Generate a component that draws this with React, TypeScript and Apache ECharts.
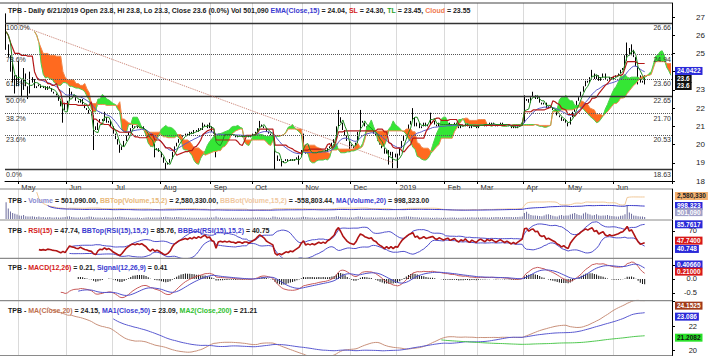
import React, { useEffect, useRef } from "react";
import * as echarts from "echarts";

const FONT = "'Liberation Sans', Arial, sans-serif";

// ---------------- data ----------------
const firstDay = [2018, 3, 19]; // 19 Apr 2018 (UTC month index)
const holidays = [
  "2018-04-25", "2018-04-30", "2018-05-01", "2018-09-03", "2019-01-01",
  "2019-02-04", "2019-02-05", "2019-02-06", "2019-02-07", "2019-02-08",
  "2019-04-15", "2019-04-29", "2019-04-30", "2019-05-01",
];
const futureDays = 12;
const monthNames = ["Jan", "Feb", "Mar", "Apr", "May", "Jun", "Jul", "Aug", "Sep", "Oct", "Nov", "Dec"];

const closeApr18 = [25.5, 24.8, 24.0, 23.4, 23.8, 23.2];
const closeMay18 = [23.6, 23.0, 23.9, 23.2, 22.8, 23.7, 23.4, 23.1, 23.2, 23.3, 23.1, 23.2, 23.0, 23.2, 23.1, 22.9, 22.8, 22.7, 22.4, 22.1, 22.3, 21.9];
const closeJun18 = [22.4, 22.9, 22.7, 22.6, 22.4, 22.3, 22.5, 22.2, 22.0, 21.9, 21.7, 21.6, 21.0, 20.8, 21.2, 21.4, 21.3, 21.5, 21.2, 21.3, 21.0];
const closeJul18 = [20.6, 20.3, 20.0, 19.7, 19.9, 20.2, 20.5, 20.7, 20.9, 21.0, 20.9, 21.0, 20.9, 21.0, 20.8, 20.6, 20.2, 19.9, 20.1, 19.7, 19.8, 19.6];
const closeAug18 = [19.3, 19.0, 18.9, 19.0, 19.2, 19.6, 19.9, 20.1, 20.3, 20.4, 20.5, 20.6, 20.5, 20.7, 20.6, 20.8, 20.7, 20.9, 20.8, 21.0, 21.1, 20.9, 21.0];
const closeSep18 = [20.7, 20.6, 19.8, 20.5, 20.6, 20.5, 20.6, 20.5, 20.6, 20.5, 20.5, 20.4, 20.5, 20.5, 20.4, 20.5, 20.5, 20.4, 20.5];
const closeOct18 = [20.6, 20.7, 20.9, 21.1, 21.0, 20.9, 20.7, 20.6, 20.5, 20.4, 19.4, 19.1, 19.2, 19.0, 19.1, 19.2, 19.1, 19.2, 19.1, 19.2, 19.3, 19.4, 19.7];
const closeNov18 = [19.9, 19.5, 19.6, 19.5, 19.6, 19.5, 19.6, 19.7, 19.6, 19.7, 19.6, 19.8, 19.9, 20.1, 20.3, 21.0, 21.5, 21.2, 20.8, 20.5, 20.2, 20.0];
const closeDec18 = [19.9, 19.8, 20.1, 20.7, 21.3, 21.2, 21.0, 20.9, 20.8, 20.9, 20.6, 20.5, 20.2, 20.0, 19.8, 19.5, 19.7, 19.4, 19.6, 19.3, 19.5];
const closeJan19 = [19.4, 19.8, 20.2, 20.5, 20.8, 21.1, 21.3, 21.5, 21.0, 21.2, 20.9, 21.0, 21.2, 21.0, 21.1, 21.2, 21.3, 21.1, 21.0, 21.2, 21.1, 21.0];
const closeFeb19 = [21.1, 21.2, 21.0, 21.1, 21.2, 21.0, 20.9, 21.1, 21.0, 21.2, 21.0, 20.9, 21.1, 21.0, 20.9];
const closeMar19 = [21.1, 21.2, 21.1, 21.0, 21.2, 21.1, 21.2, 21.1, 21.0, 21.1, 21.2, 21.1, 21.0, 21.1, 21.0, 20.9, 21.0, 20.9, 21.0, 21.1, 21.2];
const closeApr19 = [22.4, 22.5, 22.3, 22.6, 22.7, 22.5, 22.6, 22.3, 22.2, 22.3, 22.0, 22.1, 22.0, 21.9, 21.8, 21.6, 21.5, 21.3, 21.4];
const closeMay19 = [21.2, 21.1, 21.5, 21.8, 22.1, 22.4, 22.6, 22.9, 23.2, 23.5, 23.4, 23.7, 23.9, 23.6, 23.8, 23.5, 23.7, 23.9, 23.6, 23.5, 23.7, 23.6];
const closeJun19 = [23.7, 23.8, 23.9, 24.1, 24.2, 24.6, 25.3, 24.9, 25.2, 24.8, 24.3, 23.8, 23.4, 23.5, 23.6];
const closes = [
  ...closeApr18, ...closeMay18, ...closeJun18, ...closeJul18, ...closeAug18, ...closeSep18,
  ...closeOct18, ...closeNov18, ...closeDec18, ...closeJan19, ...closeFeb19, ...closeMar19,
  ...closeApr19, ...closeMay19, ...closeJun19,
];

const firstOpen = 27.0;
const lastOpen = 23.8;
const wickHighs: [number, number][] = [
  [0, 27.2], [2, 24.9], [3, 24.5], [6, 24.6], [8, 24.2], [11, 24.0], [13, 23.6], [29, 23.1], [45, 21.8],
  [58, 21.2], [90, 21.2], [93, 21.2], [116, 21.3], [136, 20.6], [152, 21.9], [162, 21.9], [186, 22.0],
  [194, 21.75], [237, 22.7], [241, 22.9], [268, 24.1], [283, 24.9], [284, 25.6], [286, 25.5], [292, 23.8],
];
const wickLows: [number, number][] = [
  [0, 25.2], [4, 22.8], [7, 22.6], [10, 22.5], [26, 21.2], [40, 19.7], [52, 19.55], [68, 19.3], [73, 18.63],
  [96, 19.3], [123, 18.63], [126, 18.8], [134, 18.9], [157, 19.6], [175, 18.9], [177, 18.7], [179, 18.7],
  [257, 21.0], [289, 23.3], [292, 23.3],
];

// volume, thousands of shares
const volApr18 = [4200, 2600, 1900, 1500, 1300, 1100];
const volMay18 = [900, 800, 1000, 700, 650, 600, 700, 550, 500, 600, 450, 500, 400, 450, 500, 400, 380, 420, 350, 400, 450, 500];
const volJun18 = [600, 700, 500, 450, 400, 380, 420, 350, 400, 500, 600, 550, 450, 400, 380, 350, 320, 400, 380, 350, 330];
const volJul18 = [400, 450, 500, 550, 480, 420, 380, 350, 330, 300, 320, 350, 300, 280, 300, 400, 450, 380, 350, 400, 380, 350];
const volAug18 = [450, 500, 550, 480, 420, 400, 450, 500, 480, 420, 380, 350, 330, 360, 340, 320, 300, 330, 310, 300, 320, 350, 330];
const volSep18 = [380, 360, 600, 400, 350, 330, 320, 300, 310, 290, 300, 320, 310, 300, 290, 310, 300, 320, 330];
const volOct18 = [350, 380, 400, 420, 380, 350, 330, 320, 300, 600, 550, 450, 400, 380, 420, 400, 380, 360, 350, 340, 380, 400, 450];
const volNov18 = [550, 500, 420, 380, 360, 340, 330, 350, 360, 380, 400, 420, 450, 500, 480, 700, 650, 500, 450, 420, 400, 380];
const volDec18 = [380, 400, 500, 600, 550, 450, 400, 380, 400, 420, 380, 360, 400, 420, 450, 400, 380, 420, 450, 400, 380];
const volJan19 = [450, 500, 520, 550, 600, 650, 550, 480, 450, 420, 400, 380, 360, 380, 350, 330, 320, 340, 350, 330, 320, 300];
const volFeb19 = [300, 320, 350, 380, 360, 340, 320, 330, 350, 360, 380, 400, 420, 380, 360];
const volMar19 = [380, 400, 420, 450, 400, 380, 420, 450, 480, 500, 450, 420, 480, 500, 520, 480, 450, 500, 520, 550, 600];
const volApr19 = [1500, 1800, 1300, 1000, 900, 850, 800, 750, 700, 900, 1100, 1200, 1000, 800, 700, 650, 900, 1000, 800];
const volMay19 = [850, 900, 1100, 1300, 1500, 1200, 1000, 900, 1400, 1600, 1300, 1100, 900, 1000, 1200, 900, 800, 850, 900, 1000, 800, 750];
const volJun19 = [700, 650, 600, 800, 900, 1200, 3400, 1600, 1300, 900, 800, 700, 650, 600, 501.09];
const volumesK = [
  ...volApr18, ...volMay18, ...volJun18, ...volJul18, ...volAug18, ...volSep18, ...volOct18,
  ...volNov18, ...volDec18, ...volJan19, ...volFeb19, ...volMar19, ...volApr19, ...volMay19, ...volJun19,
];

// indicator settings (as the picture suggests)
const tlPeriod = 3;
const slPeriod = 13;
const cloudShift = 13;

const fibPercents = ["100.0%", "78.6%", "61.8%", "50.0%", "38.2%", "23.6%", "0.0%"];
const fibValues = [26.66, 24.94, 23.6, 22.65, 21.7, 20.53, 18.63];
const fibSolid = [true, false, false, true, false, false, true];
const trendStart: [number, number] = [5, 26.6];
const trendEnd: [number, number] = [177, 19.0];

const emaTag = 24.0422;
const closeTag = 23.6;
const volTags = [2580330, 998323, 501090];
const rsiTags = [85.7617, 47.74, 40.748];
const macdTags = [0.4066, 0.21];
const maTags = [24.1525, 23.086, 21.2082];
const maAxisLabels = [20, 22];

// ---------------- helpers ----------------
type N = number | null;
function tradingDates(count: number, futureCount: number): string[] {
  const out: string[] = [];
  const d = new Date(Date.UTC(firstDay[0], firstDay[1], firstDay[2]));
  while (out.length < count + futureCount) {
    const dow = d.getUTCDay();
    const iso = d.toISOString().slice(0, 10);
    if (dow !== 0 && dow !== 6 && !holidays.includes(iso)) out.push(iso);
    d.setUTCDate(d.getUTCDate() + 1);
  }
  return out;
}
function sma(a: N[], p: number): N[] {
  return a.map((_, i) => {
    if (i < p - 1) return null;
    let s = 0;
    for (let j = i - p + 1; j <= i; j++) {
      if (a[j] == null) return null;
      s += a[j] as number;
    }
    return s / p;
  });
}
function ema(a: N[], p: number): N[] {
  const out: N[] = a.map(() => null);
  const start = a.findIndex((v) => v != null);
  if (start < 0 || start + p > a.length) return out;
  const k = 2 / (p + 1);
  let s = 0;
  for (let i = start; i < start + p; i++) s += a[i] as number;
  let e = s / p;
  out[start + p - 1] = e;
  for (let i = start + p; i < a.length; i++) {
    e = (a[i] as number) * k + e * (1 - k);
    out[i] = e;
  }
  return out;
}
function bands(a: N[], p: number, m: number) {
  const top: N[] = [], bot: N[] = [];
  a.forEach((_, i) => {
    let ok = i >= p - 1;
    const w: number[] = [];
    if (ok) for (let j = i - p + 1; j <= i; j++) { if (a[j] == null) ok = false; else w.push(a[j] as number); }
    if (!ok) { top.push(null); bot.push(null); return; }
    const mean = w.reduce((x, y) => x + y, 0) / p;
    const sd = Math.sqrt(w.reduce((x, y) => x + (y - mean) * (y - mean), 0) / p);
    top.push(mean + m * sd);
    bot.push(mean - m * sd);
  });
  return { top, bot };
}
function rsi(c: number[], p: number): N[] {
  const out: N[] = c.map(() => null);
  let ag = 0, al = 0;
  for (let i = 1; i <= p; i++) { const d = c[i] - c[i - 1]; ag += Math.max(d, 0); al += Math.max(-d, 0); }
  ag /= p; al /= p;
  out[p] = al === 0 ? 100 : 100 - 100 / (1 + ag / al);
  for (let i = p + 1; i < c.length; i++) {
    const d = c[i] - c[i - 1];
    ag = (ag * (p - 1) + Math.max(d, 0)) / p;
    al = (al * (p - 1) + Math.max(-d, 0)) / p;
    out[i] = al === 0 ? 100 : 100 - 100 / (1 + ag / al);
  }
  return out;
}

function buildOption() {
  const n = closes.length;
  const dates = tradingDates(n, futureDays);
  const monthStart = new Set<number>();
  for (let i = 1; i < n; i++) if (dates[i].slice(5, 7) !== dates[i - 1].slice(5, 7)) monthStart.add(i);
  const isMonth = (idx: number) => monthStart.has(idx);

  const opens = closes.map((c, i) => (i === 0 ? firstOpen : i === n - 1 ? lastOpen : closes[i - 1]));
  const highs = closes.map((c, i) => Math.max(c, opens[i]));
  const lows = closes.map((c, i) => Math.min(c, opens[i]));
  wickHighs.forEach(([i, v]) => (highs[i] = Math.max(highs[i], v)));
  wickLows.forEach(([i, v]) => (lows[i] = Math.min(lows[i], v)));
  const candles = closes.map((c, i) => [opens[i], c, lows[i], highs[i]]);

  const mid = (p: number, i: number) => {
    let hi = -Infinity, lo = Infinity;
    for (let j = Math.max(0, i - p + 1); j <= i; j++) { hi = Math.max(hi, highs[j]); lo = Math.min(lo, lows[j]); }
    return (hi + lo) / 2;
  };
  const tl = closes.map((_, i) => mid(tlPeriod, i));
  const sl = closes.map((_, i) => mid(slPeriod, i));
  const total = n + futureDays;
  const spanA: N[] = new Array(total).fill(null);
  const spanB: N[] = new Array(total).fill(null);
  for (let i = 0; i < n; i++) {
    if (i + cloudShift < total) {
      spanA[i + cloudShift] = tl[i];
      spanB[i + cloudShift] = sl[i];
    }
  }
  const cloudBase = spanA.map((a, i) => (a == null || spanB[i] == null ? null : Math.min(a, spanB[i] as number)));
  const cloudGreen = spanA.map((a, i) => (a == null || spanB[i] == null ? null : Math.max(0, a - (spanB[i] as number))));
  const cloudOrange = spanA.map((a, i) => (a == null || spanB[i] == null ? null : Math.max(0, (spanB[i] as number) - a)));
  const ema15 = ema(closes, 15);

  const vols = volumesK.map((v) => v * 1000);
  const volMA = sma(vols, 20);
  const volBB = bands(vols, 15, 2);

  const rsi15 = rsi(closes, 15);
  const rsiBB = bands(rsi15, 15, 2);

  const e12 = ema(closes, 12);
  const e26 = ema(closes, 26);
  const macd: N[] = closes.map((_, i) => (e12[i] == null || e26[i] == null ? null : (e12[i] as number) - (e26[i] as number)));
  const signal = ema(macd, 9);
  const hist = macd.map((m, i) => (m == null || signal[i] == null ? null : m - (signal[i] as number)));

  const ma20 = sma(closes, 20);
  const ma50 = sma(closes, 50);
  const ma200 = sma(closes, 200);

  const labelFmt = (v: string) => {
    const m = +v.slice(5, 7);
    return m === 1 ? v.slice(0, 4) : monthNames[m - 1];
  };
  const xAxisFor = (gi: number, main: boolean) => ({
    type: "category", gridIndex: gi, data: dates, boundaryGap: true,
    axisLine: { show: main, lineStyle: { color: "#000", width: 1 } },
    axisTick: { show: main, interval: isMonth, length: 3, lineStyle: { color: "#000" } },
    axisLabel: {
      show: main, interval: isMonth, formatter: labelFmt, fontSize: 7.5, color: "#222",
      align: "left", margin: 2, fontFamily: FONT, padding: [0, 0, 0, 2],
    },
    splitLine: { show: true, interval: isMonth, lineStyle: { color: "#dadada", width: 1 } },
  });
  const yBase = (gi: number) => ({
    type: "value", gridIndex: gi, position: "right", scale: true,
    axisLine: { show: true, lineStyle: { color: "#000", width: 1 } },
    axisTick: { show: true, length: 3, lineStyle: { color: "#000" } },
    splitLine: { show: false },
    axisLabel: { fontSize: 7.5, color: "#222", fontFamily: FONT, align: "right", margin: 25, showMinLabel: false, showMaxLabel: false },
  });

  const hidden = { color: "rgba(0,0,0,0)", width: 0 };
  const tag = (value: number, text: string, bg: string, fg: string, dy = 0) => ({
    yAxis: value,
    lineStyle: hidden,
    label: {
      show: true, position: "end", formatter: text, backgroundColor: bg, color: fg, fontSize: 6.5,
      fontFamily: FONT, fontWeight: "bold", padding: [1, 2, 0, 2], distance: 3, offset: [0, dy],
    },
  });
  const marks = (data: any[]) => ({ symbol: ["none", "none"], silent: true, animation: false, data });
  const tagSeries = (xi: number, yi: number, data: any[]) => ({
    type: "line", xAxisIndex: xi, yAxisIndex: yi, data: [null], clip: false, silent: true,
    symbol: "none", lineStyle: hidden, markLine: marks(data), z: 20,
  });

  const line = (data: N[], color: string, xi: number, yi: number, width = 1, extra: any = {}) => ({
    type: "line", data, xAxisIndex: xi, yAxisIndex: yi, symbol: "none", showSymbol: false, silent: true,
    lineStyle: { color, width }, itemStyle: { color }, ...extra,
  });

  const fibMarks: any[] = [];
  fibValues.forEach((v, k) => {
    const ls = { type: fibSolid[k] ? "solid" : "dotted", color: fibSolid[k] ? "#333" : "#555", width: fibSolid[k] ? 1.3 : 1 };
    fibMarks.push({
      yAxis: v, lineStyle: ls,
      label: { show: true, position: "insideStartBottom", formatter: fibPercents[k], fontSize: 7, color: "#333", fontFamily: FONT, distance: 1 },
    });
    fibMarks.push({
      yAxis: v, lineStyle: hidden,
      label: { show: true, position: "insideEndBottom", formatter: v.toFixed(2), fontSize: 7, color: "#333", fontFamily: FONT, distance: 1 },
    });
  });
  fibMarks.push([
    { coord: [trendStart[0], trendStart[1]], lineStyle: { type: "dotted", color: "#c87c6c", width: 1 }, label: { show: false } },
    { coord: [trendEnd[0], trendEnd[1]] },
  ]);

  const rich = (col: string) => ({ color: col, fontSize: 7, fontFamily: FONT });
  const richSet = {
    k: rich("#222"), b: rich("#3b3bd0"), r: rich("#d42020"), g: rich("#1fa01f"), o: rich("#f07a50"),
    t: rich("#e8b878"), p: rich("#f0c8a0"), v: rich("#8a8ad0"), m: rich("#c07050"), l: rich("#30c030"),
  };
  const title = (top: number, text: string) => ({ left: 3, top, text, textStyle: { rich: richSet, fontSize: 7, fontFamily: FONT } });

  const sepYs = [3, 189, 220, 258.3, 300.7, 355.5];

  // MA panel: 22 at y=326, 12.25 px per unit, bottom at the last separator
  const maPx = 12.25;
  const maMax = 24.3;
  const maTop = 326 - (maMax - 22) * maPx;
  const maBottom = 355.5;
  const maMin = 22 - (maBottom - 326) / maPx;
  const maHeight = maBottom - maTop;

  return {
    animation: false,
    backgroundColor: "#fff",
    title: [
      title(2, "{k|TPB - Daily 6/21/2019 Open 23.8, Hi 23.8, Lo 23.3, Close 23.6 (0.0%) Vol 501,090 }{b|EMA(Close,15)}{k| = 24.04, }{r|SL}{k| = 24.30, }{g|TL}{k| = 23.45, }{o|Cloud}{k| = 23.55}"),
      title(192, "{k|TPB - }{v|Volume}{k| = 501,090.00, }{t|BBTop(Volume,15,2)}{k| = 2,580,330.00, }{p|BBBot(Volume,15,2)}{k| = -558,803.44, }{b|MA(Volume,20)}{k| = 998,323.00}"),
      title(222, "{k|TPB - }{r|RSI(15)}{k| = 47.74, }{b|BBTop(RSI(15),15,2)}{k| = 85.76, }{b|BBBot(RSI(15),15,2)}{k| = 40.75}"),
      title(259, "{k|TPB - }{r|MACD(12,26)}{k| = 0.21, }{b|Signal(12,26,9)}{k| = 0.41}"),
      title(302, "{k|TPB - }{m|MA(Close,20)}{k| = 24.15, }{b|MA1(Close,50)}{k| = 23.09, }{l|MA2(Close,200)}{k| = 21.21}"),
    ],
    graphic: sepYs.map((y) => ({
      type: "line", silent: true, z: 100,
      shape: { x1: 0, y1: y, x2: 672, y2: y },
      style: { stroke: y === 3 ? "#444" : "#8a8a8a", lineWidth: 1.2 },
    })),
    grid: [
      { left: 5, right: 38, top: 3, height: 178 },
      { left: 5, right: 38, top: 189, height: 30 },
      { left: 5, right: 38, top: 220, height: 38.3 },
      { left: 5, right: 38, top: 258.3, height: 42.4 },
      { left: 5, right: 38, top: maTop, height: maHeight },
    ],
    xAxis: [xAxisFor(0, true), xAxisFor(1, false), xAxisFor(2, false), xAxisFor(3, false), xAxisFor(4, false)],
    yAxis: [
      { ...yBase(0), min: 18, max: 27.77, interval: 1, axisLabel: { ...yBase(0).axisLabel, fontSize: 8, margin: 33, showMinLabel: true, formatter: (v: number) => (v === 24 ? "" : String(v)) } },
      { ...yBase(1), min: 0, max: 7500000, axisLabel: { show: false }, axisTick: { show: false } },
      { ...yBase(1), min: -1060000, max: 3680000, show: false },
      { ...yBase(2), min: 20, max: 90, interval: 50, axisLabel: { ...yBase(2).axisLabel, formatter: (v: number) => (v === 70 ? "70" : "") } },
      { ...yBase(3), min: -0.775, max: 0.739, splitNumber: 3, axisLabel: { ...yBase(3).axisLabel, formatter: (v: number) => (v > 0.1 ? "" : v.toFixed(1)) } },
      {
        ...yBase(4), min: maMin, max: maMax,
        axisTick: { show: true, length: 3, lineStyle: { color: "#000" }, customValues: [20, 22, 24] },
        axisLabel: {
          ...yBase(4).axisLabel, customValues: maAxisLabels, showMinLabel: true, showMaxLabel: true,
          formatter: (v: number) => (Math.abs(v - 20) < 0.01 || Math.abs(v - 22) < 0.01 ? String(Math.round(v)) : ""),
        },
      },
    ],
    series: [
      // cloud
      line(cloudBase, "transparent", 0, 0, 0, { stack: "cloud", lineStyle: hidden }),
      line(cloudGreen, "#35e635", 0, 0, 0, { stack: "cloud", lineStyle: hidden, areaStyle: { color: "#35e635", opacity: 1 } }),
      line(cloudOrange, "#ff6a1f", 0, 0, 0, { stack: "cloud", lineStyle: hidden, areaStyle: { color: "#ff6a1f", opacity: 1 } }),
      line(spanA, "#4ccf4c", 0, 0, 1),
      line(spanB, "#f08a50", 0, 0, 1),
      {
        type: "candlestick", xAxisIndex: 0, yAxisIndex: 0, data: candles, silent: true, barMaxWidth: 2,
        itemStyle: { color: "#ffffff", color0: "#000000", borderColor: "#000000", borderColor0: "#000000", borderWidth: 1 },
        markLine: marks(fibMarks),
      },
      line(ema15, "#5a5ac8", 0, 0, 1),
      line(sl, "#b51818", 0, 0, 1.2),
      line(tl, "#1e8c1e", 0, 0, 1),
      tagSeries(0, 0, [
        tag(emaTag, emaTag.toFixed(4), "#2a2ad8", "#fff"),
        tag(closeTag, closeTag.toFixed(1), "#111", "#fff", 0),
        tag(closeTag, closeTag.toFixed(1), "#111", "#fff", 7),
      ]),
      // volume
      { type: "bar", xAxisIndex: 1, yAxisIndex: 1, data: vols, silent: true, barWidth: 1, itemStyle: { color: "#6b6b9c" } },
      line(volBB.top, "#f0c898", 1, 2, 1),
      line(volMA, "#3c3cc8", 1, 2, 1),
      tagSeries(1, 2, [
        tag(volTags[0], "2,580,330", "#f2b070", "#222"),
        tag(volTags[1], "998,323", "#2a2ad8", "#fff"),
        tag(volTags[2], "501,090", "#a0a0c8", "#fff", 3),
      ]),
      // RSI
      line(rsiBB.top, "#5050cc", 2, 3, 1),
      line(rsiBB.bot, "#5050cc", 2, 3, 1),
      line(rsi15, "#b01414", 2, 3, 1.6),
      tagSeries(2, 3, [
        tag(rsiTags[0], "85.7617", "#2a2ad8", "#fff", 2),
        tag(rsiTags[1], "47.7400", "#d81818", "#fff", -2.5),
        tag(rsiTags[2], "40.748", "#2a2ad8", "#fff", 2),
      ]),
      // MACD
      { type: "bar", xAxisIndex: 3, yAxisIndex: 4, data: hist, silent: true, barWidth: 1, itemStyle: { color: "#111" } },
      line(macd, "#c85a5a", 3, 4, 1),
      line(signal, "#5050cc", 3, 4, 1),
      tagSeries(3, 4, [
        tag(macdTags[0], "0.40660", "#2a2ad8", "#fff", -3),
        tag(macdTags[1], "0.21000", "#d81818", "#fff", -1.5),
      ]),
      // MAs
      line(ma20, "#c8907a", 4, 5, 1),
      line(ma50, "#5a5ad0", 4, 5, 1),
      line(ma200, "#50c850", 4, 5, 1),
      tagSeries(4, 5, [
        tag(maTags[0], "24.1525", "#a03a1a", "#fff", 6),
        tag(maTags[1], "23.086", "#2a2ad8", "#fff", 4),
        tag(maTags[2], "21.2082", "#28e028", "#111", 2),
      ]),
    ],
  };
}

export default function App() {
  const ref = useRef<HTMLDivElement>(null);
  useEffect(() => {
    if (!ref.current) return;
    const chart = echarts.init(ref.current, null, { renderer: "svg" });
    chart.setOption(buildOption() as any);
    return () => chart.dispose();
  }, []);
  return <div ref={ref} style={{ position: "absolute", left: 0, top: 0, width: 710, height: 359, background: "#fff" }} />;
}
